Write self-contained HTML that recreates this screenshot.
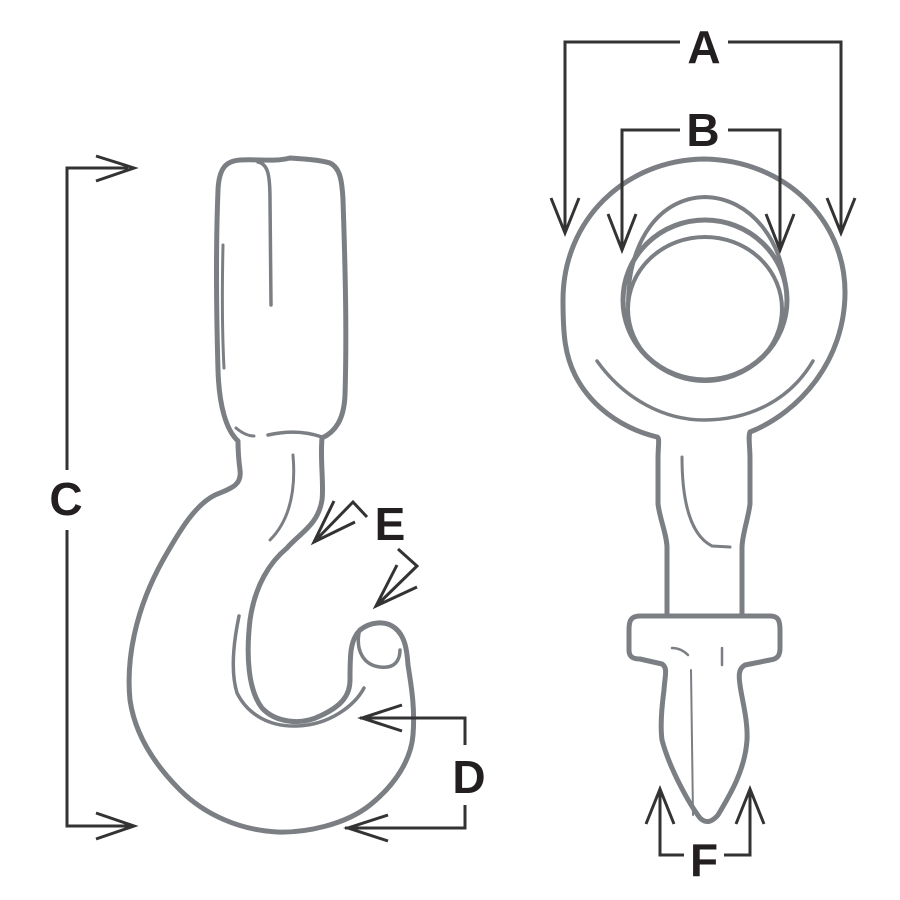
<!DOCTYPE html>
<html><head><meta charset="utf-8"><style>
html,body{margin:0;padding:0;background:#fff;}
svg{display:block}
text{font-family:"Liberation Sans",Arial,sans-serif;font-weight:bold;fill:#231f20;font-size:46px;text-anchor:middle}
</style></head><body>
<svg width="900" height="900" viewBox="0 0 900 900" xmlns="http://www.w3.org/2000/svg">
<g fill="none" stroke="#7b7f84" stroke-width="5" stroke-linecap="round" stroke-linejoin="round">
<path d="M238,441 C226,430 219,405 218,370 C216,300 216,240 218,190 C219,168 226,161 240,160 C260,159 275,162 290,158 C305,159 320,160 330,163 C340,168 342,180 343,200 C345,260 347,330 345,395 C344,420 335,432 322,438 C320,460 324,485 322,500 C318,525 300,533 287,548 C270,562 255,585 250,620 C246,655 248,690 262,708 C275,722 300,726 320,716 C342,706 350,695 350,680 C350,655 350,640 360,630 C370,622 385,620 395,628 C405,636 407,650 408,665 C412,690 415,710 413,735 C411,760 395,785 370,805 C345,825 305,833 277,832 C240,830 205,815 180,790 C155,765 135,735 130,700 C126,660 135,610 163,560 C180,530 195,505 215,495 C232,488 242,485 240,470 C238,455 238,448 238,441 Z"/>
<path d="M258,162 C268,164 270,175 270,200 L271,305" stroke-width="3.5"/>
<path d="M223,245 C222,290 222,330 224,368" stroke-width="3"/>
<path d="M236,428 C242,433 248,436 254,436" stroke-width="3"/>
<path d="M268,435 C290,430 308,432 322,437" stroke-width="3.5"/>
<path d="M293,455 C296,490 290,520 270,540" stroke-width="3"/>
<path d="M239,616 C234,640 230,670 237,693 C248,715 270,727 297,726 C330,725 355,705 364,688" stroke-width="3.5"/>
<path d="M359,633 C356,650 363,665 380,667 C395,669 400,660 400,650" stroke-width="3.5"/>
<path d="M657,437 C620,428 590,405 575,375 C565,355 563,335 563,300 C563,220 625,160 704,159 C785,160 845,220 845,292 C845,360 800,412 750,432"/>
<path d="M657,437 C660,438 658,445 658,460 L658,504 C660,520 667,535 667,548 L667,616"/>
<path d="M750,432 C748,437 750,445 750,460 L750,504 C748,520 742,535 742,548 L742,616"/>
<ellipse cx="705" cy="300" rx="82" ry="80"/>
<ellipse cx="705" cy="309" rx="77" ry="72" stroke-width="4"/>
<path d="M628,305 C628,240 660,198 705,197 C750,198 785,240 787,300" stroke-width="4"/>
<path d="M597,361 C625,400 665,420 704,420 C750,420 790,400 813,361" stroke-width="3.5"/>
<path d="M682,457 C682,500 690,535 712,546 L730,547" stroke-width="3"/>
<path d="M667,616 L640,616 C630,616 629,622 629,630 L629,650 C629,657 633,659 640,659 L662,664 C668,668 665,675 664,690 C662,705 660,725 662,740 C670,770 690,805 700,818 C706,824 712,822 718,815 C730,795 745,770 747,740 C748,720 742,700 740,685 C738,672 740,668 745,665 L770,660 C778,659 780,655 780,648 L780,630 C780,620 778,616 770,616 Z"/>
<path d="M672,648 C680,648 685,652 688,655" stroke-width="2.5"/>
<path d="M691,670 L693,815" stroke-width="2"/>
<path d="M722,648 L722,665" stroke-width="2.5"/>
</g>
<g fill="none" stroke="#333" stroke-width="3" stroke-linejoin="miter">
<path d="M128,168 L67,168 L67,470 M67,530 L67,826 L130,826"/>
<path d="M96,156 L134,168 L96,181"/>
<path d="M96,813 L134,826 L96,839"/>
<path d="M360,718 L465,718 L465,745 M465,805 L465,828 L345,828"/>
<path d="M402,705 L362,718 L402,731"/>
<path d="M388,815 L348,828 L388,841"/>
<path d="M334,501 L314,542 L355,522 M314,542 L353,502 L367,517"/>
<path d="M397,565 L376,606 L417,587 M376,606 L417,566 L398,549"/>
<path d="M565,232 L565,42 L680,42 M728,42 L841,42 L841,232"/>
<path d="M551,198 L565,233 L579,198"/>
<path d="M827,198 L841,233 L855,198"/>
<path d="M622,250 L622,130 L680,130 M728,130 L780,130 L780,250"/>
<path d="M608,214 L622,250 L636,214"/>
<path d="M766,214 L780,250 L794,214"/>
<path d="M660,789 L660,855 L684,855 M724,855 L750,855 L750,789"/>
<path d="M646,824 L660,789 L674,824"/>
<path d="M736,824 L750,789 L764,824"/>
</g>
<text x="704" y="63">A</text>
<text x="703" y="146">B</text>
<text x="66" y="515">C</text>
<text x="469" y="793">D</text>
<text x="390" y="540">E</text>
<text x="704" y="876">F</text>
</svg>
</body></html>
